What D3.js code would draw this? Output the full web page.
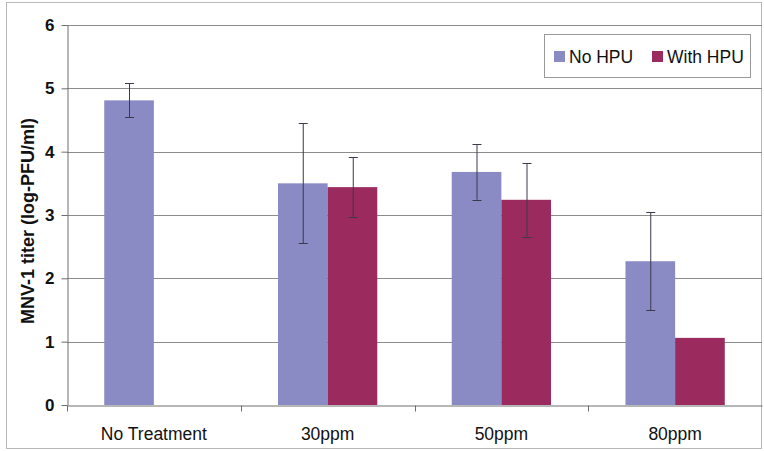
<!DOCTYPE html>
<html>
<head>
<meta charset="utf-8">
<script src="https://cdn.jsdelivr.net/npm/d3@7"></script>
<style>
  body { margin: 0; background: #fff; }
  svg { display: block; font-family: "Liberation Sans", Arial, sans-serif; }
</style>
</head>
<body>
<div id="chart"></div>
<script>
'use strict';

// chart data
var categories = ['No Treatment', '30ppm', '50ppm', '80ppm'];
var seriesNames = ['No HPU', 'With HPU'];
var noHpu = [4.81, 3.50, 3.68, 2.27];
var noHpuErr = [0.27, 0.95, 0.44, 0.77];
var withHpu = [null, 3.44, 3.24, 1.06];
var withHpuErr = [null, 0.47, 0.58, null];
var yTicks = [0, 1, 2, 3, 4, 5, 6];

var width = 764;
var height = 451;
var margins = { top: 25, right: 2, bottom: 46, left: 67 };
var colors = { 'No HPU': '#8a8bc4', 'With HPU': '#9b2a5e' };

var svg = d3.select('#chart').append('svg')
  .attr('width', width)
  .attr('height', height);

// outer frame
svg.append('rect')
  .attr('x', 6.5).attr('y', 2.5)
  .attr('width', 755).attr('height', 446)
  .attr('fill', 'none')
  .attr('stroke', '#b8b8b8');

var x = d3.scaleBand()
  .domain(categories)
  .range([margins.left, width - margins.right]);

var x1 = d3.scaleBand()
  .domain(seriesNames)
  .range([0, x.bandwidth()])
  .paddingInner(0)
  .paddingOuter(0.75);

var y = d3.scaleLinear()
  .domain([0, 6])
  .range([height - margins.bottom, margins.top]);

// gridlines
svg.append('g').attr('class', 'grid')
  .selectAll('line').data(yTicks.slice(1)).enter().append('line')
  .attr('x1', margins.left).attr('x2', width - margins.right)
  .attr('y1', function (d) { return Math.round(y(d)) + 0.5; })
  .attr('y2', function (d) { return Math.round(y(d)) + 0.5; })
  .attr('stroke', '#8c8c8c');

// rows of bar data
var rows = categories.map(function (c, i) {
  return [
    { cat: c, name: 'No HPU', value: noHpu[i], err: noHpuErr[i] },
    { cat: c, name: 'With HPU', value: withHpu[i], err: withHpuErr[i] }
  ];
});

var groups = svg.append('g').attr('class', 'bars')
  .selectAll('g').data(rows).enter().append('g')
  .attr('transform', function (d) { return 'translate(' + x(d[0].cat) + ',0)'; });

groups.selectAll('rect')
  .data(function (d) { return d.filter(function (b) { return b.value != null; }); })
  .enter().append('rect')
  .attr('x', function (d) { return x1(d.name); })
  .attr('width', x1.bandwidth())
  .attr('y', function (d) { return y(d.value); })
  .attr('height', function (d) { return y(0) - y(d.value); })
  .attr('fill', function (d) { return colors[d.name]; });

// error bars
var errs = groups.selectAll('g.err')
  .data(function (d) { return d.filter(function (b) { return b.err != null; }); })
  .enter().append('g').attr('class', 'err')
  .attr('stroke', '#3a3a4a').attr('stroke-width', 1);

function cx(d) { return Math.round(x1(d.name) + x1.bandwidth() / 2) + 0.5; }

errs.append('line')
  .attr('x1', cx).attr('x2', cx)
  .attr('y1', function (d) { return y(d.value + d.err); })
  .attr('y2', function (d) { return y(d.value - d.err); });
errs.append('line')
  .attr('x1', function (d) { return cx(d) - 4.5; })
  .attr('x2', function (d) { return cx(d) + 4.5; })
  .attr('y1', function (d) { return Math.round(y(d.value + d.err)) + 0.5; })
  .attr('y2', function (d) { return Math.round(y(d.value + d.err)) + 0.5; });
errs.append('line')
  .attr('x1', function (d) { return cx(d) - 4.5; })
  .attr('x2', function (d) { return cx(d) + 4.5; })
  .attr('y1', function (d) { return Math.round(y(d.value - d.err)) + 0.5; })
  .attr('y2', function (d) { return Math.round(y(d.value - d.err)) + 0.5; });

// y axis
var yAxis = svg.append('g')
  .attr('transform', 'translate(' + (margins.left + 0.5) + ',0)')
  .call(d3.axisLeft(y).tickValues(yTicks).tickFormat(d3.format('d'))
    .tickSize(6).tickPadding(7).tickSizeOuter(0));
yAxis.select('.domain').attr('stroke', '#6e6e6e');
yAxis.selectAll('.tick line').attr('stroke', '#6e6e6e');
yAxis.selectAll('.tick text')
  .attr('font-size', 17).attr('font-weight', 'bold')
  .attr('font-family', '"Liberation Sans", Arial, sans-serif')
  .attr('fill', '#111');

// x axis
var xAxis = svg.append('g')
  .attr('transform', 'translate(0,' + (y(0) + 0.5) + ')')
  .call(d3.axisBottom(x).tickSize(0).tickPadding(22).tickSizeOuter(0));
xAxis.select('.domain').attr('stroke', '#6e6e6e');
xAxis.selectAll('.tick text')
  .attr('font-size', 17.5)
  .attr('font-family', '"Liberation Sans", Arial, sans-serif')
  .attr('fill', '#111');

// x tick marks at band boundaries
xAxis.selectAll('line.sep')
  .data(categories).enter().append('line')
  .attr('class', 'sep')
  .attr('x1', function (d) { return Math.round(x(d)) + 0.5; })
  .attr('x2', function (d) { return Math.round(x(d)) + 0.5; })
  .attr('y1', 0).attr('y2', 6)
  .attr('stroke', '#6e6e6e');

// y axis title
svg.append('text')
  .attr('transform', 'translate(34,' + ((y(0) + y(6)) / 2 + 6) + ') rotate(-90)')
  .attr('text-anchor', 'middle')
  .attr('font-size', 18).attr('font-weight', 'bold')
  .attr('fill', '#111')
  .text('MNV-1 titer (log-PFU/ml)');

// legend
var legend = svg.append('g').attr('class', 'legend');
legend.append('rect')
  .attr('x', 544.5).attr('y', 34.5)
  .attr('width', 206).attr('height', 43)
  .attr('fill', '#fff').attr('stroke', '#9a9a9a');
var legendX = [554, 652];
var item = legend.selectAll('g.item').data(seriesNames).enter().append('g')
  .attr('class', 'item')
  .attr('transform', function (d, i) { return 'translate(' + legendX[i] + ',51)'; });
item.append('rect')
  .attr('width', 11).attr('height', 11)
  .attr('fill', function (d) { return colors[d]; });
item.append('text')
  .attr('x', 15).attr('y', 12)
  .attr('font-size', 17.5).attr('fill', '#111')
  .text(function (d) { return d; });
</script>
</body>
</html>
